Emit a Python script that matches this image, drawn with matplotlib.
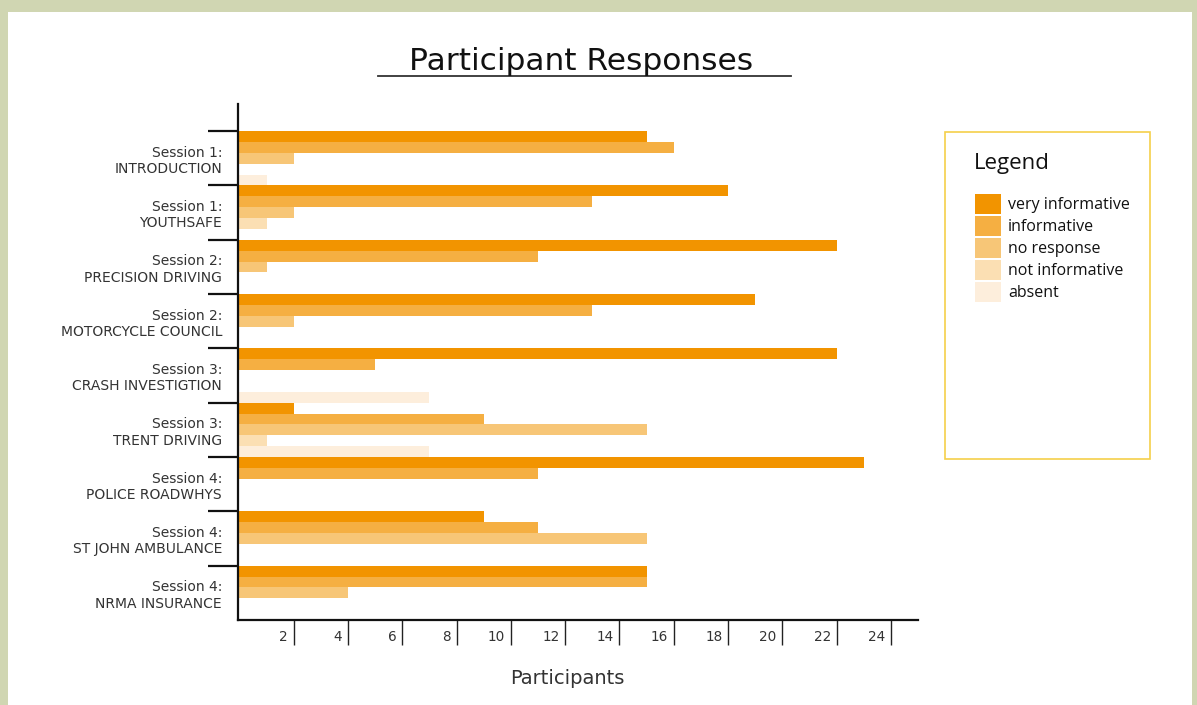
import numpy as np
import matplotlib.pyplot as plt
from matplotlib.patches import Rectangle
from matplotlib.lines import Line2D


# chart data
sessions = [
    "Session 1:\nINTRODUCTION",
    "Session 1:\nYOUTHSAFE",
    "Session 2:\nPRECISION DRIVING",
    "Session 2:\nMOTORCYCLE COUNCIL",
    "Session 3:\nCRASH INVESTIGTION",
    "Session 3:\nTRENT DRIVING",
    "Session 4:\nPOLICE ROADWHYS",
    "Session 4:\nST JOHN AMBULANCE",
    "Session 4:\nNRMA INSURANCE",
]
series = ["very informative", "informative", "no response", "not informative", "absent"]
very_informative = [15, 18, 22, 19, 22, 2, 23, 9, 15]
informative = [16, 13, 11, 13, 5, 9, 11, 11, 15]
no_response = [2, 2, 1, 2, 0, 15, 0, 15, 4]
not_informative = [0, 1, 0, 0, 0, 1, 0, 0, 0]
absent = [1, 0, 0, 0, 7, 7, 0, 0, 0]
x_ticks = [2, 4, 6, 8, 10, 12, 14, 16, 18, 20, 22, 24]

colors = ["#F29400", "#F5AF42", "#F7C677", "#FBDFB3", "#FDEEDC"]
data = [very_informative, informative, no_response, not_informative, absent]

W, H = 1197, 705
label_font = ["DejaVu Sans"]
legend_font = ["Open Sans", "DejaVu Sans"]


def fx(px):
    return px / W


def fy(py):
    return 1 - py / H


fig = plt.figure(figsize=(W / 100, H / 100), dpi=100)
fig.patch.set_facecolor("#D0D6B2")

# white panel inside the green frame
fig.add_artist(Rectangle((fx(8), 0), fx(1192) - fx(8), fy(12), transform=fig.transFigure,
                         facecolor="white", edgecolor="none", zorder=-10))

ax = fig.add_axes([fx(238), fy(620), fx(918) - fx(238), fy(104) - fy(620)])
ax.set_facecolor("white")

# grouped horizontal bars
y = np.arange(len(sessions))
h = 0.2
for j, vals in enumerate(data):
    ax.barh(y + (j + 0.5) * h, vals, height=h, color=colors[j], linewidth=0)

ax.set_xlim(-0.05, 25)
ax.set_ylim(len(sessions), -0.5)

# group boundary ticks and centred labels
ax.set_yticks(y)
ax.set_yticklabels([])
ax.tick_params(axis="y", which="major", length=21.6, width=1.6, direction="out", color="#111")
ax.set_yticks(y + 0.5, minor=True)
ax.set_yticklabels(sessions, minor=True, fontsize=10, color="#333", family=label_font,
                   linespacing=1.2)
ax.tick_params(axis="y", which="minor", length=0, pad=11.5)

# x ticks, labels sit left of each tick line
ax.set_xticks(x_ticks)
ax.tick_params(axis="x", length=18, width=1, direction="out", color="#222", labelbottom=False)
for v in x_ticks:
    ax.annotate(str(v), xy=(v, 0), xycoords=("data", "axes fraction"), xytext=(-4, -12.5),
                textcoords="offset points", ha="right", va="center", fontsize=9.8,
                color="#333", family=label_font)

for s in ["top", "right"]:
    ax.spines[s].set_visible(False)
ax.spines["left"].set_linewidth(1.6)
ax.spines["bottom"].set_linewidth(1.6)
ax.spines["left"].set_color("#111")
ax.spines["bottom"].set_color("#111")

# title with underline
fig.text(fx(581), fy(62), "Participant Responses", ha="center", va="center", fontsize=22.5,
         color="#111", family=label_font)
fig.add_artist(Line2D([fx(378), fx(791)], [fy(76), fy(76)], color="#333", linewidth=1.3))

fig.text(fx(567), fy(679), "Participants", ha="center", va="center", fontsize=14,
         color="#333", family=label_font)

# legend box drawn by hand
fig.add_artist(Rectangle((fx(945), fy(459)), fx(1150) - fx(945), fy(132) - fy(459),
                         transform=fig.transFigure, facecolor="none", edgecolor="#F5D04A",
                         linewidth=1.2))
fig.text(fx(974), fy(164), "Legend", ha="left", va="center", fontsize=16, color="#111",
         family=legend_font)
for j, name in enumerate(series):
    top = 194 + j * 22
    fig.add_artist(Rectangle((fx(975), fy(top + 20)), fx(1001) - fx(975), fy(top) - fy(top + 20),
                             transform=fig.transFigure, facecolor=colors[j], edgecolor="none"))
    fig.text(fx(1008), fy(top + 11), name, ha="left", va="center", fontsize=11.5,
             color="#111", family=legend_font)

fig.savefig("out.png", dpi=100)
